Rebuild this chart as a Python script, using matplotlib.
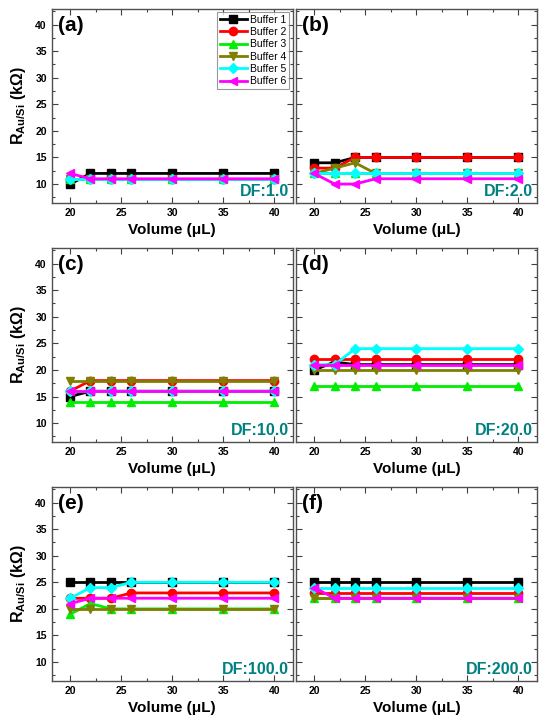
import matplotlib
matplotlib.use('Agg')
import matplotlib.pyplot as plt
from matplotlib.ticker import MultipleLocator

plt.rcParams['font.family'] = ['Liberation Sans', 'DejaVu Sans']
plt.rcParams['font.weight'] = 'bold'
plt.rcParams['mathtext.fontset'] = 'custom'
plt.rcParams['mathtext.rm'] = 'Liberation Sans:bold'
plt.rcParams['mathtext.bf'] = 'Liberation Sans:bold'
plt.rcParams['mathtext.it'] = 'Liberation Sans:bold'

# volumes (uL)
volumen = [20, 22, 24, 26, 30, 35, 40]

buffers = ['Buffer 1', 'Buffer 2', 'Buffer 3', 'Buffer 4', 'Buffer 5', 'Buffer 6']
colores = ['#000000', '#ff0000', '#00ee00', '#7f7f00', '#00ffff', '#ff00ff']
marcadores = ['s', 'o', '^', 'v', 'D', '<']

paneles = ['(a)', '(b)', '(c)', '(d)', '(e)', '(f)']
diluciones = ['DF:1.0', 'DF:2.0', 'DF:10.0', 'DF:20.0', 'DF:100.0', 'DF:200.0']

# R_Au/Si (kOhm) por panel, una lista por buffer
df1_b1 = [10, 12, 12, 12, 12, 12, 12]
df1_b2 = [11, 11, 11, 11, 11, 11, 11]
df1_b3 = [11, 11, 11, 11, 11, 11, 11]
df1_b4 = [11, 11, 11, 11, 11, 11, 11]
df1_b5 = [11, 11, 11, 11, 11, 11, 11]
df1_b6 = [12, 11, 11, 11, 11, 11, 11]

df2_b1 = [14, 14, 15, 15, 15, 15, 15]
df2_b2 = [13, 13, 15, 15, 15, 15, 15]
df2_b3 = [12, 12, 12, 12, 12, 12, 12]
df2_b4 = [12, 13, 14, 12, 12, 12, 12]
df2_b5 = [12, 12, 12, 12, 12, 12, 12]
df2_b6 = [12, 10, 10, 11, 11, 11, 11]

df10_b1 = [15, 16, 16, 16, 16, 16, 16]
df10_b2 = [16, 18, 18, 18, 18, 18, 18]
df10_b3 = [14, 14, 14, 14, 14, 14, 14]
df10_b4 = [18, 18, 18, 18, 18, 18, 18]
df10_b5 = [16, 16, 16, 16, 16, 16, 16]
df10_b6 = [16, 16, 16, 16, 16, 16, 16]

df20_b1 = [20, 21.5, 21, 21, 21, 21, 21]
df20_b2 = [22, 22, 22, 22, 22, 22, 22]
df20_b3 = [17, 17, 17, 17, 17, 17, 17]
df20_b4 = [20, 20, 20, 20, 20, 20, 20]
df20_b5 = [21, 21, 24, 24, 24, 24, 24]
df20_b6 = [21, 21, 21, 21, 21, 21, 21]

df100_b1 = [25, 25, 25, 25, 25, 25, 25]
df100_b2 = [22, 22, 22, 23, 23, 23, 23]
df100_b3 = [19, 21, 20, 20, 20, 20, 20]
df100_b4 = [20, 20, 20, 20, 20, 20, 20]
df100_b5 = [22, 24, 24, 25, 25, 25, 25]
df100_b6 = [21, 22, 22, 22, 22, 22, 22]

df200_b1 = [25, 25, 25, 25, 25, 25, 25]
df200_b2 = [23, 23, 23, 23, 23, 23, 23]
df200_b3 = [22, 22, 22, 22, 22, 22, 22]
df200_b4 = [22, 22, 22, 22, 22, 22, 22]
df200_b5 = [24, 24, 24, 24, 24, 24, 24]
df200_b6 = [24, 22, 22, 22, 22, 22, 22]

datos = [
    [df1_b1, df1_b2, df1_b3, df1_b4, df1_b5, df1_b6],
    [df2_b1, df2_b2, df2_b3, df2_b4, df2_b5, df2_b6],
    [df10_b1, df10_b2, df10_b3, df10_b4, df10_b5, df10_b6],
    [df20_b1, df20_b2, df20_b3, df20_b4, df20_b5, df20_b6],
    [df100_b1, df100_b2, df100_b3, df100_b4, df100_b5, df100_b6],
    [df200_b1, df200_b2, df200_b3, df200_b4, df200_b5, df200_b6],
]

fig = plt.figure(figsize=(5.5, 7.27), dpi=100)

izq = [0.094, 0.538]
abajo = [0.7212, 0.3924, 0.0637]
ancho = 0.438
alto = 0.267

for i in range(6):
    fila, col = i // 2, i % 2
    ax = fig.add_axes([izq[col], abajo[fila], ancho, alto])

    for serie, nombre, c, m in zip(datos[i], buffers, colores, marcadores):
        ax.plot(volumen, serie, color=c, marker=m, markersize=6 if m != 'D' else 5.2,
                linewidth=2.0, markeredgecolor=c, label=nombre)

    ax.set_xlim(18.2, 41.8)
    ax.set_ylim(6.5, 43)
    ax.xaxis.set_major_locator(MultipleLocator(5))
    ax.xaxis.set_minor_locator(MultipleLocator(2.5))
    ax.yaxis.set_minor_locator(MultipleLocator(2.5))
    ax.set_yticks([10, 15, 20, 25, 30, 35, 40])
    ax.tick_params(which='both', direction='in', top=True, right=True,
                   labelsize=7.5, colors='#404040', labelcolor='black', width=0.8)
    ax.tick_params(which='major', length=4)
    ax.tick_params(which='minor', length=2)
    for lado in ax.spines.values():
        lado.set_color('#505050')
        lado.set_linewidth(1.0)
    for etiqueta in ax.get_xticklabels() + ax.get_yticklabels():
        etiqueta.set_fontweight('bold')

    ax.set_xlabel('Volume (μL)', fontsize=11, fontweight='bold', labelpad=4)
    if col == 0:
        ax.set_ylabel(r'$\mathregular{R_{Au/Si}}$ (kΩ)', fontsize=11.5, fontweight='bold', labelpad=5)
    else:
        ax.tick_params(labelleft=False)

    ax.text(0.025, 0.96, paneles[i], transform=ax.transAxes, fontsize=15,
            fontweight='bold', ha='left', va='top')
    ax.text(0.985, 0.02, diluciones[i], transform=ax.transAxes, fontsize=11.5,
            fontweight='bold', color='#008080', ha='right', va='bottom')

    if i == 0:
        leg = ax.legend(loc='upper right', frameon=True, fancybox=False,
                        edgecolor='#808080', handlelength=2.6, labelspacing=0.22,
                        borderaxespad=0.3, borderpad=0.3, handletextpad=0.3,
                        prop={'weight': 'normal', 'size': 7.5})
        leg.get_frame().set_linewidth(0.8)

plt.savefig('out.png', dpi=100)
